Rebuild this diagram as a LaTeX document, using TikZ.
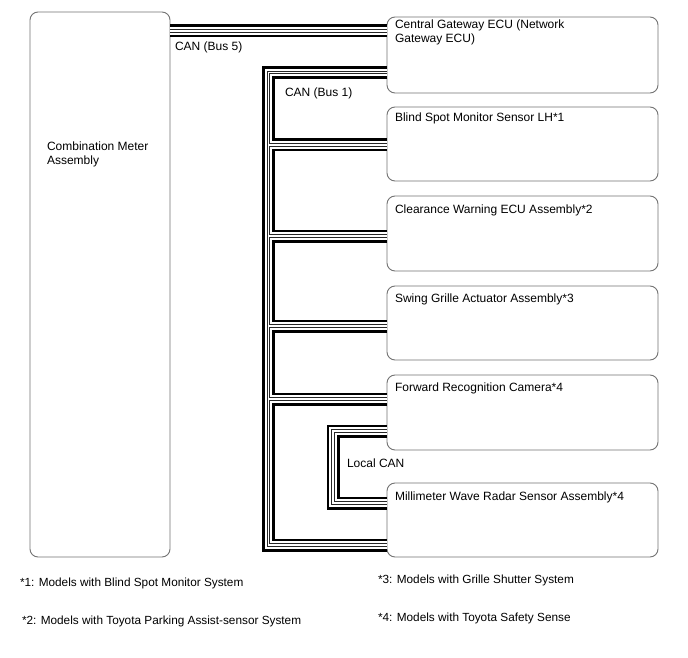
\documentclass[tikz,border=0pt]{standalone}
\usepackage{fontspec}
\setmainfont{Liberation Sans}
\begin{document}
\begin{tikzpicture}[x=1pt,y=-1pt,
  ecubox/.style={draw=black!55, line width=0.9pt, rounded corners=8pt, minimum width=271pt, inner sep=0pt, outer sep=0pt, anchor=north west},
  lbl/.style={inner sep=0pt, outer sep=0pt, anchor=base west, font=\fontsize{12}{14}\selectfont},
  lbl2/.style={inner sep=0pt, outer sep=0pt, anchor=north west, align=left, font=\fontsize{12}{14}\selectfont},
  foot/.style={inner sep=0pt, outer sep=0pt, anchor=base west, font=\fontsize{11.8}{14}\selectfont},
  bus/.style={line width=13pt, draw=black, line join=miter, line cap=butt,
    postaction={draw=white, line width=7.6pt},
    postaction={draw=black!85, line width=3.8pt},
    postaction={draw=white, line width=1.4pt}}
]
\useasboundingbox[fill=white] (0,0) rectangle (688,658);

% boxes
\node[ecubox, minimum width=140pt, minimum height=545pt] (combo) at (30,12) {};
\node[ecubox, minimum height=76pt] (gw) at (387,17) {};
\node[ecubox, minimum height=74pt] (bsm) at (387,107) {};
\node[ecubox, minimum height=75pt] (cw) at (387,196) {};
\node[ecubox, minimum height=74pt] (sg) at (387,286) {};
\node[ecubox, minimum height=75pt] (frc) at (387,375) {};
\node[ecubox, minimum height=74pt] (mwr) at (387,483) {};

% box texts
\node[lbl2] (tcombo) at (47,142) {Combination Meter\\Assembly};
\node[lbl2] (tgw) at (395,20) {Central Gateway ECU (Network\\Gateway ECU)};
\node[lbl] (tbsm) at (395,122) {Blind Spot Monitor Sensor LH*1};
\node[lbl] (tcw) at (395,213) {Clearance Warning ECU Assembly*2};
\node[lbl] (tsg) at (395,302) {Swing Grille Actuator Assembly*3};
\node[lbl] (tfrc) at (395,391) {Forward Recognition Camera*4};
\node[lbl] (tmwr) at (395,500) {Millimeter Wave Radar Sensor Assembly*4};

% bus coordinates
\coordinate (b5) at (0,31);
\coordinate (tr) at (268.5,0);
\coordinate (y0) at (0,72.5);
\coordinate (y1) at (0,145);
\coordinate (y2) at (0,236);
\coordinate (y3) at (0,326);
\coordinate (y4) at (0,399);
\coordinate (y5) at (0,545);
\coordinate (lx) at (333,0);
\coordinate (la) at (0,431);
\coordinate (lb) at (0,503);

% CAN Bus 5
\path[bus] (b5 -| combo.east) -- (b5 -| gw.west);
% CAN Bus 1
\path[bus] (y0 -| gw.west) -- (y0 -| tr) -- (y5 -| tr) -- (y5 -| mwr.west)
  (y1 -| tr) -- (y1 -| bsm.west)
  (y2 -| tr) -- (y2 -| cw.west)
  (y3 -| tr) -- (y3 -| sg.west)
  (y4 -| tr) -- (y4 -| frc.west);
% Local CAN
\path[bus] (la -| frc.west) -- (la -| lx) -- (lb -| lx) -- (lb -| mwr.west);

% bus labels
\node[lbl] (l5) at (175,51) {CAN (Bus 5)};
\node[lbl] (l1) at (285,97) {CAN (Bus 1)};
\node[lbl] (lloc) at (347,467) {Local CAN};

% footnotes
\node[foot] (f1) at (20,586) {*1: Models with Blind Spot Monitor System};
\node[foot] (f2) at (22,624) {*2: Models with Toyota Parking Assist-sensor System};
\node[foot] (f3) at (378,583) {*3: Models with Grille Shutter System};
\node[foot] (f4) at (378,621) {*4: Models with Toyota Safety Sense};
\end{tikzpicture}
\end{document}
